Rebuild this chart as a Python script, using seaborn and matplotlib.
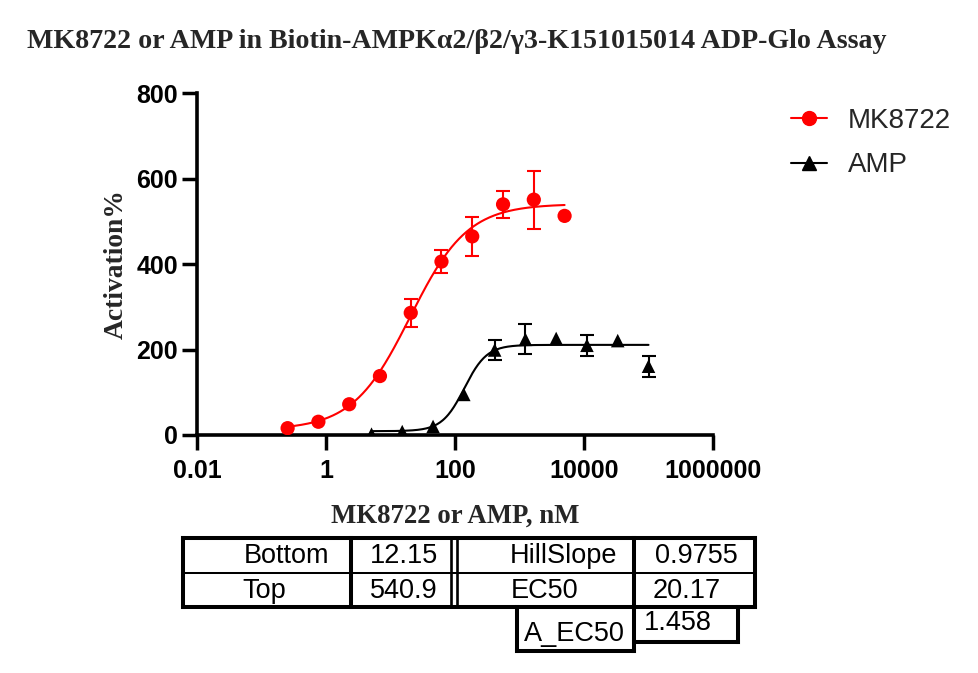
import numpy as np
import pandas as pd
import matplotlib
matplotlib.use("Agg")
import matplotlib.pyplot as plt
from matplotlib.lines import Line2D
from matplotlib.ticker import NullLocator
import seaborn as sns

# ---------------- data ----------------
mk_conc = [0.254, 0.762, 2.29, 6.86, 20.6, 61.7, 185, 556, 1667, 5000]
mk_act = [16, 31, 72, 138, 286, 406, 465, 540, 551, 513]
# None = error bar smaller than the symbol (not drawn)
mk_err = [None, None, None, None, 33, 26, 45, 31, 68, None]

amp_conc = [5.08, 15.2, 45.7, 137, 412, 1235, 3704, 11111, 33333, 100000]
amp_act = [2, 8, 20, 95, 199, 224, 226, 210, 221, 161]
amp_err = [None, None, None, None, 23, 35, None, 25, None, 25]

# 4PL fit parameters
mk_fit = dict(bottom=12.15, top=540.9, ec50=20.17, hill=0.9755)
amp_fit = dict(bottom=9.0, top=211.0, ec50=140.0, hill=2.5)

series_names = ["MK8722", "AMP"]
xtick_vals = [0.01, 1, 100, 10000, 1000000]
xtick_labels = ["0.01", "1", "100", "10000", "1000000"]
ytick_vals = [0, 200, 400, 600, 800]

table_row1 = ["Bottom", "12.15", "HillSlope", "0.9755"]
table_row2 = ["Top", "540.9", "EC50", "20.17"]
table_row3 = ["A_EC50", "1.458"]

title = "MK8722 or AMP in Biotin-AMPK\u03b12/\u03b22/\u03b33-K151015014 ADP-Glo Assay"
xlabel = "MK8722 or AMP, nM"
ylabel = "Activation%"


def fourpl(x, bottom, top, ec50, hill):
    x = np.asarray(x, dtype=float)
    return bottom + (top - bottom) / (1 + 10 ** ((np.log10(ec50) - np.log10(x)) * hill))


# ---------------- figure ----------------
sns.set_theme(style="ticks")
plt.rcParams["font.family"] = ["Liberation Sans", "DejaVu Sans"]

W, H = 979, 673
fig = plt.figure(figsize=(W / 100, H / 100), dpi=100)
ax = fig.add_axes([197 / W, 1 - 435 / H, 516 / W, (435 - 93.3) / H])
ax.set_xscale("log")

# fitted curves
for conc, fit, col in [(mk_conc, mk_fit, "red"), (amp_conc, amp_fit, "black")]:
    xs = np.logspace(np.log10(conc[0]), np.log10(conc[-1]), 300)
    df_fit = pd.DataFrame({"x": xs, "y": fourpl(xs, **fit)})
    sns.lineplot(data=df_fit, x="x", y="y", ax=ax, color=col, lw=1.5, zorder=2)

# error bars
for conc, act, err, col in [(mk_conc, mk_act, mk_err, "red"),
                            (amp_conc, amp_act, amp_err, "black")]:
    sel = [i for i, e in enumerate(err) if e is not None]
    ax.errorbar([conc[i] for i in sel], [act[i] for i in sel],
                yerr=[err[i] for i in sel], fmt="none", ecolor=col,
                elinewidth=1.5, capsize=4.9, capthick=1.5, zorder=3)

# points
df_mk = pd.DataFrame({"x": mk_conc, "y": mk_act})
df_amp = pd.DataFrame({"x": amp_conc, "y": amp_act})
sns.scatterplot(data=df_mk, x="x", y="y", ax=ax, color="red", marker="o",
                s=105, edgecolor="none", zorder=4)
sns.scatterplot(data=df_amp, x="x", y="y", ax=ax, color="black", marker="^",
                s=95, edgecolor="none", zorder=4)

ax.set_xlim(0.01, 1e6)
ax.set_ylim(0, 800)
ax.set_xticks(xtick_vals)
ax.set_xticklabels(xtick_labels)
ax.xaxis.set_minor_locator(NullLocator())
ax.set_yticks(ytick_vals)
ax.set_yticklabels([str(v) for v in ytick_vals])
ax.set_xlabel("")
ax.set_ylabel("")
ax.tick_params(axis="both", which="major", width=2.5, length=10.5,
               labelsize=18, color="black", labelcolor="black")
ax.tick_params(axis="x", pad=7)
ax.tick_params(axis="y", pad=3)
for lbl in ax.get_xticklabels() + ax.get_yticklabels():
    lbl.set_fontweight("bold")
for s in ["top", "right"]:
    ax.spines[s].set_visible(False)
for s in ["left", "bottom"]:
    ax.spines[s].set_linewidth(2.6)
    ax.spines[s].set_color("black")
ax.patch.set_visible(False)

# legend
handles = [Line2D([], [], color="red", marker="o", ms=10, lw=1.5),
           Line2D([], [], color="black", marker="^", ms=10, lw=1.5)]
fig.legend(handles, series_names, loc="upper left",
           bbox_to_anchor=(791 / W, 1 - 107.5 / H), frameon=False, fontsize=20,
           handlelength=1.3, handletextpad=0.75, labelspacing=0.68,
           borderpad=0, borderaxespad=0)

serif = ["Liberation Serif", "DejaVu Serif"]
fig.text(27.3 / W, 1 - 48.3 / H, title, family=serif, weight="bold",
         fontsize=20.2, va="baseline", ha="left")
fig.text(455 / W, 1 - 523 / H, xlabel, family=serif, weight="bold",
         fontsize=19.3, va="baseline", ha="center")
fig.text(116 / W, 1 - 264 / H, ylabel, family=serif, weight="bold",
         fontsize=19.8, va="center", ha="center", rotation=90)

# ---------------- parameter table ----------------
ov = fig.add_axes([0, 0, 1, 1])
ov.set_xlim(0, W)
ov.set_ylim(H, 0)
ov.axis("off")
ov.patch.set_visible(False)
thick, thin, dbl = 2.9, 1.45, 1.9


def hline(y, x0, x1, lw=thick):
    ov.plot([x0, x1], [y, y], color="black", lw=lw, solid_capstyle="projecting")


def vline(x, y0, y1, lw=thick):
    ov.plot([x, x], [y0, y1], color="black", lw=lw, solid_capstyle="projecting")


top_y, mid_y, bot_y = 537.7, 573.3, 607
hline(top_y, 183.3, 755)
hline(mid_y, 183.3, 755, lw=thin)
hline(bot_y, 183.3, 755)
for x in [183.3, 351, 634, 755]:
    vline(x, top_y, bot_y)
for x in [450.7, 457.3]:
    vline(x, top_y, bot_y, lw=dbl)
# third row boxes
vline(516.7, bot_y, 651)
vline(634, bot_y, 651)
hline(651, 516.7, 634)
vline(738.3, bot_y, 642.3)
hline(642.3, 634, 738.3)

fs_t = 19.5
row1_x = [287, 403.8, 563.3, 696.7]
row2_x = [264.5, 403.8, 544.5, 686.7]
for txt, x in zip(table_row1, row1_x):
    ov.text(x, 562.7, txt, fontsize=fs_t, ha="center", va="baseline", color="black")
for txt, x in zip(table_row2, row2_x):
    ov.text(x, 597.7, txt, fontsize=fs_t, ha="center", va="baseline", color="black")
ov.text(574.3, 640.7, table_row3[0], fontsize=fs_t, ha="center", va="baseline", color="black")
ov.text(677.5, 630, table_row3[1], fontsize=fs_t, ha="center", va="baseline", color="black")

fig.savefig("out.png", dpi=100)
